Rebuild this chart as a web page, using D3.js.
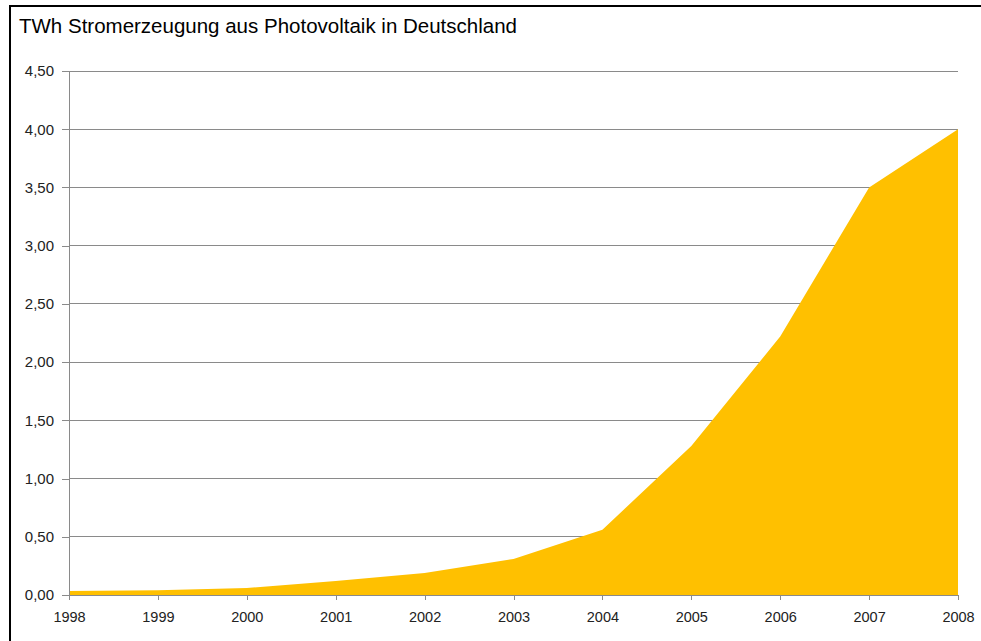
<!DOCTYPE html>
<html>
<head>
<meta charset="utf-8">
<script src="https://cdn.jsdelivr.net/npm/d3@7"></script>
<style>
  body { margin: 0; background: #fff; }
  svg { display: block; font-family: "Liberation Sans", Arial, sans-serif; }
</style>
</head>
<body>
<svg id="chart"></svg>
<script>
const WIDTH = 981;
const HEIGHT = 641;

// data
const years = [1998, 1999, 2000, 2001, 2002, 2003, 2004, 2005, 2006, 2007, 2008];
const twh = [0.035, 0.04, 0.06, 0.12, 0.19, 0.31, 0.56, 1.28, 2.22, 3.50, 4.00];
const yTicks = [0, 0.5, 1, 1.5, 2, 2.5, 3, 3.5, 4, 4.5];
const title = "TWh Stromerzeugung aus Photovoltaik in Deutschland";

const svg = d3.select("#chart")
  .attr("width", WIDTH)
  .attr("height", HEIGHT);

const x = d3.scaleLinear().domain([1998, 2008]).range([69, 958]);
const y = d3.scaleLinear().domain([0, 4.5]).range([595, 71]);

const de = d3.formatLocale({ decimal: ",", thousands: ".", grouping: [3], currency: ["", " €"] });
const fmt = de.format(".2f");

// outer frame (only left and top edges are inside the picture)
svg.append("rect")
  .attr("x", 10).attr("y", 6)
  .attr("width", WIDTH + 20).attr("height", HEIGHT + 20)
  .attr("fill", "none")
  .attr("stroke", "#000")
  .attr("stroke-width", 2);

svg.append("text")
  .attr("x", 19).attr("y", 33)
  .attr("font-size", 20.5)
  .attr("fill", "#000")
  .text(title);

// gridlines
svg.append("g")
  .selectAll("line")
  .data(yTicks.filter(d => d > 0))
  .join("line")
  .attr("x1", x(1998)).attr("x2", x(2008))
  .attr("y1", d => y(d)).attr("y2", d => y(d))
  .attr("stroke", "#8a8a8a")
  .attr("stroke-width", 1)
  .attr("shape-rendering", "crispEdges");

const area = d3.area()
  .x((d, i) => x(years[i]))
  .y0(y(0))
  .y1(d => y(d));

svg.append("path")
  .datum(twh)
  .attr("fill", "#ffc000")
  .attr("d", area);

const yAxis = svg.append("g")
  .attr("transform", `translate(${x(1998)},0)`)
  .call(d3.axisLeft(y).tickValues(yTicks).tickFormat(fmt).tickSize(7).tickPadding(8));

const xAxis = svg.append("g")
  .attr("transform", `translate(0,${y(0)})`)
  .call(d3.axisBottom(x).tickValues(years).tickFormat(d3.format("d")).tickSize(5).tickPadding(12));

[yAxis, xAxis].forEach(g => {
  g.select(".domain").attr("stroke", "#8a8a8a").attr("shape-rendering", "crispEdges");
  g.selectAll(".tick line").attr("stroke", "#8a8a8a").attr("shape-rendering", "crispEdges");
  g.selectAll(".tick text")
    .attr("fill", "#222")
    .attr("font-family", "\"Liberation Sans\", Arial, sans-serif");
});
yAxis.selectAll(".tick text").attr("font-size", 15);
xAxis.selectAll(".tick text").attr("font-size", 14.5);
</script>
</body>
</html>
